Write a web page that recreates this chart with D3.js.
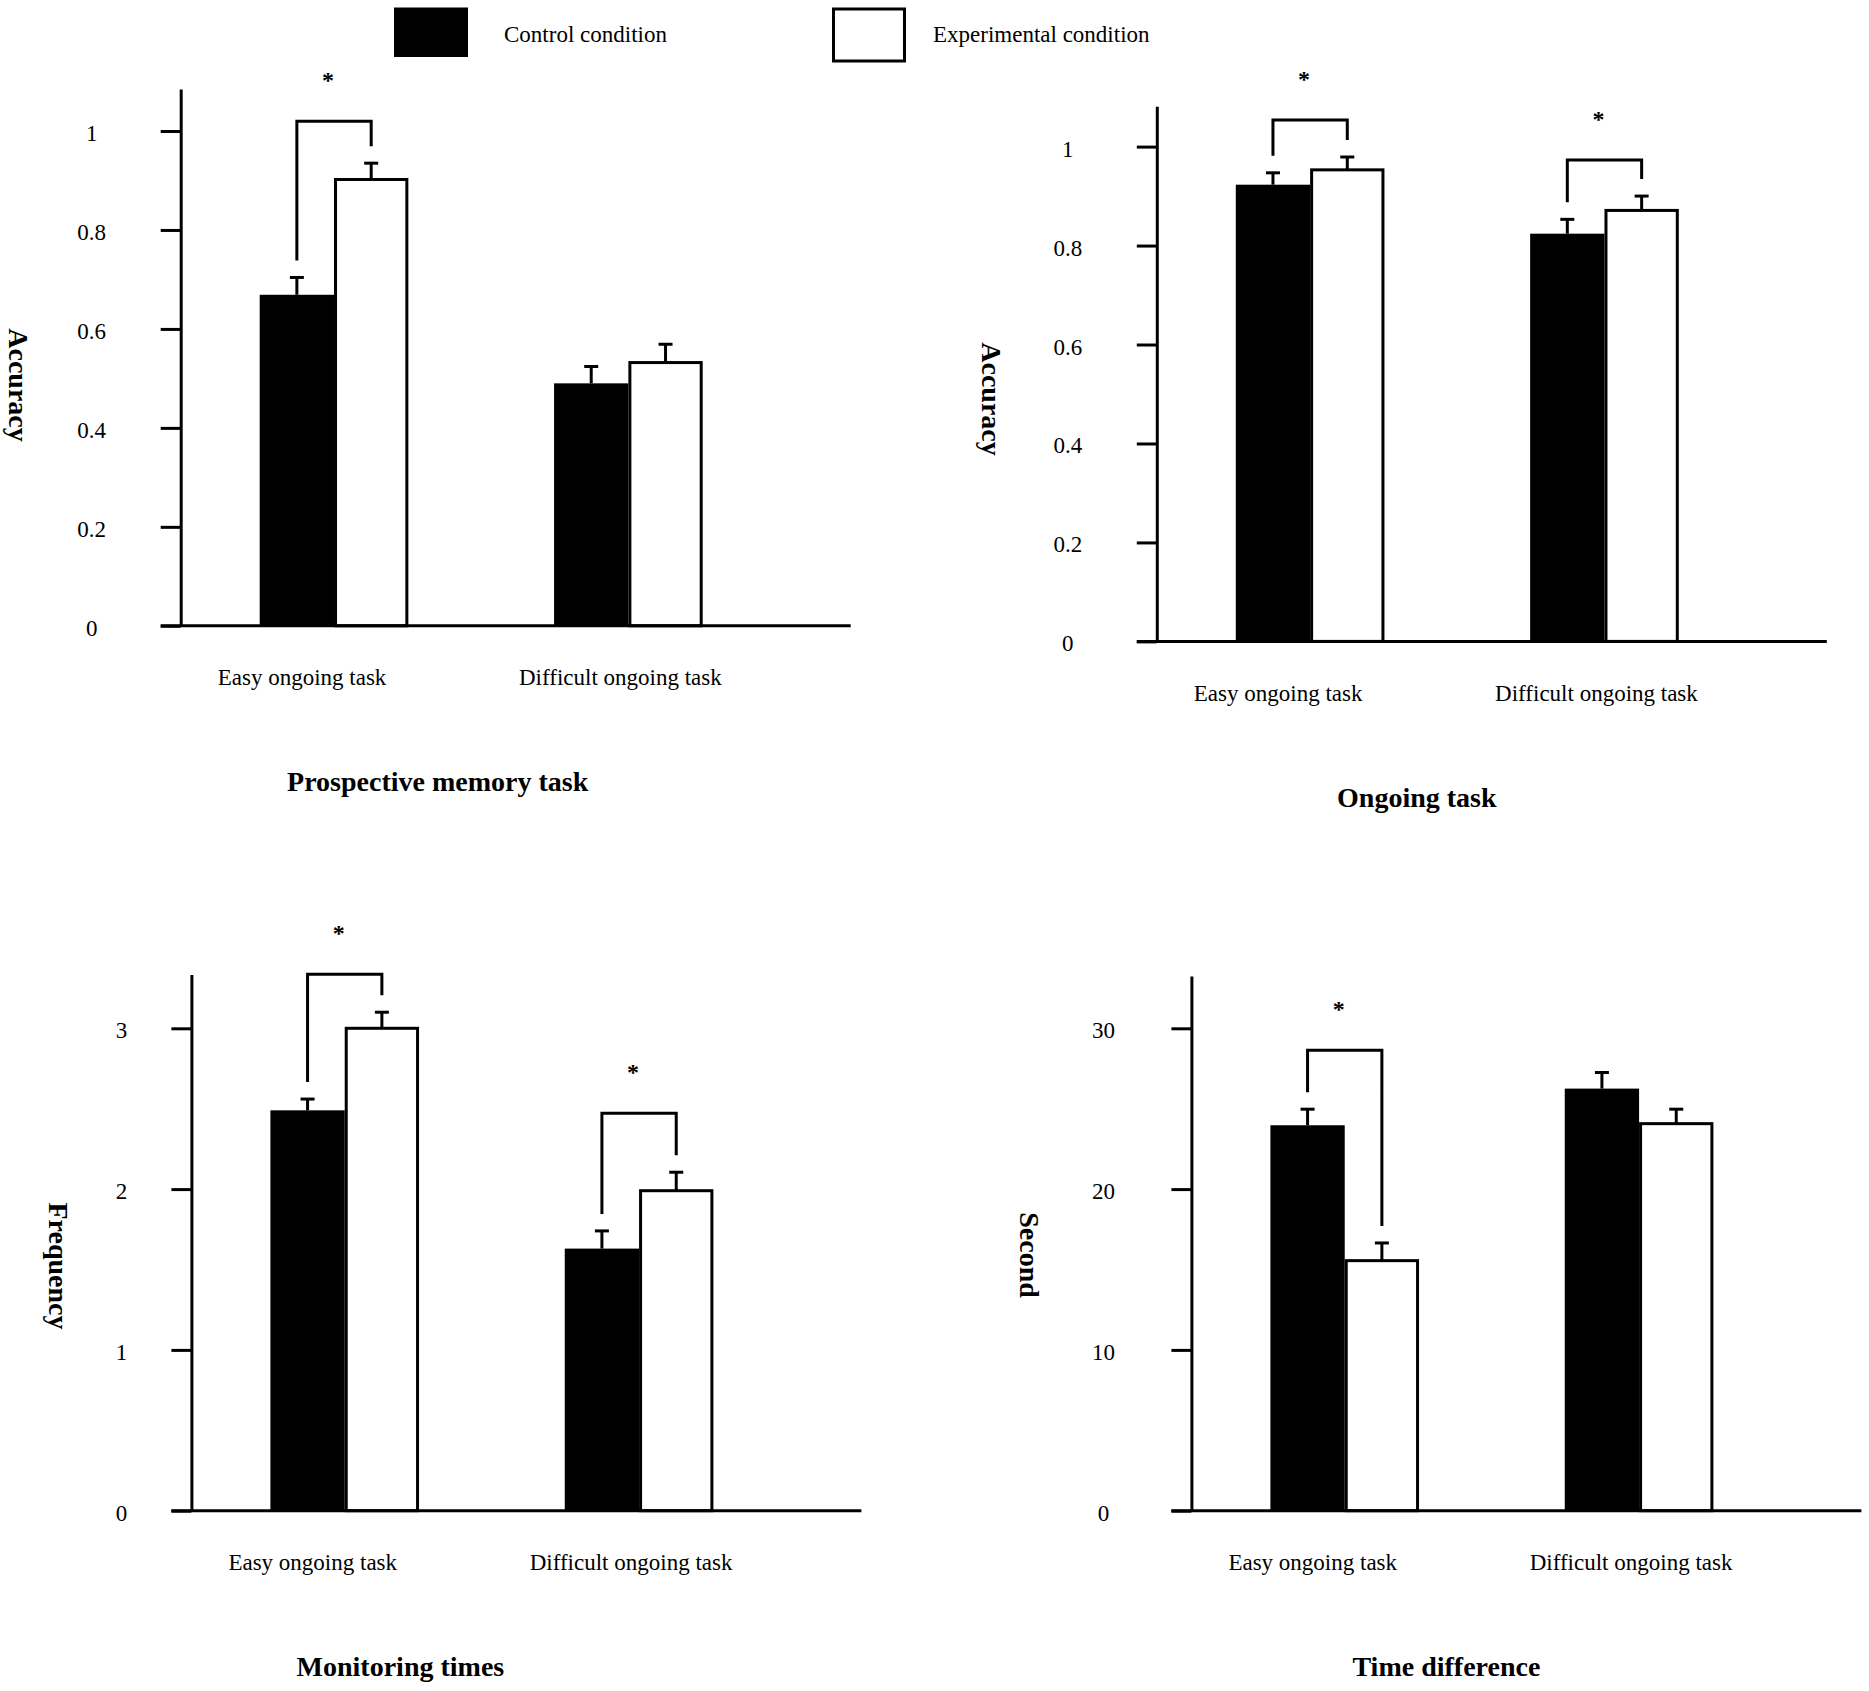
<!DOCTYPE html>
<html>
<head>
<meta charset="utf-8">
<script src="https://cdn.jsdelivr.net/npm/d3@7"></script>
<style>
body { margin: 0; background: #fff; }
svg { display: block; font-family: "Liberation Serif", "Times New Roman", serif; }
</style>
</head>
<body>
<div id="chart"></div>
<script>
// categories and conditions
const categories = ["Easy ongoing task", "Difficult ongoing task"];
const conditions = ["Control condition", "Experimental condition"];

// [control, experimental] per category
const pmMeans = [[0.669, 0.902], [0.490, 0.532]];
const pmErrors = [[0.035, 0.033], [0.034, 0.037]];
const pmTicks = [0, 0.2, 0.4, 0.6, 0.8, 1];
const pmSig = [true, false];

const ongoingMeans = [[0.923, 0.953], [0.824, 0.871]];
const ongoingErrors = [[0.024, 0.026], [0.029, 0.029]];
const ongoingTicks = [0, 0.2, 0.4, 0.6, 0.8, 1];
const ongoingSig = [true, true];

const monitorMeans = [[2.49, 3.0], [1.63, 1.99]];
const monitorErrors = [[0.07, 0.10], [0.11, 0.115]];
const monitorTicks = [0, 1, 2, 3];
const monitorSig = [true, true];

const timeMeans = [[23.97, 15.55], [26.25, 24.07]];
const timeErrors = [[1.0, 1.1], [1.0, 0.9]];
const timeTicks = [0, 10, 20, 30];
const timeSig = [true, false];

const W = 1869, H = 1691;
const labelOffsets = [-32, -8]; // category labels sit a bit left of the bar pair

const svg = d3.select("#chart")
    .append("svg")
    .attr("width", W)
    .attr("height", H);

svg.append("rect").attr("width", W).attr("height", H).attr("fill", "white");

//legend
const legend = svg.append("g");
legend.append("rect")
    .attr("x", 394).attr("y", 7.5)
    .attr("width", 74).attr("height", 49.5)
    .attr("fill", "black");
legend.append("rect")
    .attr("x", 833.5).attr("y", 9)
    .attr("width", 71).attr("height", 52)
    .attr("fill", "white")
    .attr("stroke", "black")
    .attr("stroke-width", 3);
legend.selectAll("text")
    .data(conditions)
    .enter()
    .append("text")
    .attr("x", (d, i) => i === 0 ? 504 : 933)
    .attr("y", 34)
    .attr("dominant-baseline", "central")
    .style("font-size", "23px")
    .text(d => d);

function drawPanel(p) {
    const g = svg.append("g");

    // y scale: tick values up to the top tick, axis line reaches a little further
    const y = d3.scaleLinear()
                .domain([0, p.maxVal])
                .range([p.base, p.maxPx]);
    const yAxisScale = y.copy()
                .domain([0, y.invert(p.top)])
                .range([p.base, p.top]);

    const x0 = d3.scaleBand()
                .domain(categories)
                .range([p.axisX + 79, p.axisX + 522])
                .paddingInner(0.495);
    const x1 = d3.scaleBand()
                .domain(conditions)
                .range([0, x0.bandwidth()]);

    // bars
    const rows = [];
    categories.forEach((c, i) => {
        conditions.forEach((k, j) => {
            rows.push({cat: c, cond: k, ci: i, cj: j, mean: p.means[i][j], err: p.errors[i][j]});
        });
    });

    g.selectAll("rect.bar")
        .data(rows)
        .enter()
        .append("rect")
        .attr("class", "bar")
        .attr("x", d => x0(d.cat) + x1(d.cond) + (d.cj === 1 ? 1.5 : 0))
        .attr("y", d => y(d.mean))
        .attr("width", d => x1.bandwidth() - (d.cj === 1 ? 3 : 0))
        .attr("height", d => p.base - y(d.mean))
        .attr("fill", d => d.cj === 0 ? "black" : "white")
        .attr("stroke", d => d.cj === 0 ? "none" : "black")
        .attr("stroke-width", 3);

    // error bars (upper half only)
    const cx = d => x0(d.cat) + x1(d.cond) + x1.bandwidth() / 2;
    g.selectAll("line.err")
        .data(rows)
        .enter()
        .append("line")
        .attr("class", "err")
        .attr("x1", cx).attr("x2", cx)
        .attr("y1", d => y(d.mean))
        .attr("y2", d => y(d.mean + d.err))
        .attr("stroke", "black")
        .attr("stroke-width", 3);
    g.selectAll("line.cap")
        .data(rows)
        .enter()
        .append("line")
        .attr("class", "cap")
        .attr("x1", d => cx(d) - 7).attr("x2", d => cx(d) + 7)
        .attr("y1", d => y(d.mean + d.err))
        .attr("y2", d => y(d.mean + d.err))
        .attr("stroke", "black")
        .attr("stroke-width", 3);

    // significance brackets
    categories.forEach((c, i) => {
        if (!p.sig[i]) return;
        const a = rows[i * 2], b = rows[i * 2 + 1];
        const lx = cx(a), rx = cx(b);
        const la = y(a.mean + a.err), rb = y(b.mean + b.err);
        const hy = Math.min(la, rb) - p.bracketGap[i];
        g.append("path")
            .attr("d", `M${lx},${la - 17}V${hy}H${rx}V${rb - 17}`)
            .attr("fill", "none")
            .attr("stroke", "black")
            .attr("stroke-width", 3);
        g.append("text")
            .attr("x", (lx + rx) / 2 - 6)
            .attr("y", hy - 33)
            .attr("text-anchor", "middle")
            .style("font-size", "24px")
            .style("font-weight", "bold")
            .text("*");
    });

    // y axis
    const yAxis = d3.axisLeft(yAxisScale)
                .tickValues(p.ticks)
                .tickSize(20)
                .tickSizeOuter(0)
                .tickFormat(d => String(d));
    const ya = g.append("g")
        .attr("transform", `translate(${p.axisX},0)`)
        .call(yAxis);
    ya.attr("font-family", null).attr("font-size", null);
    ya.selectAll("path, line").attr("stroke-width", 3);
    ya.selectAll("text")
        .attr("x", -p.tickDx)
        .attr("dy", null)
        .attr("y", 2)
        .attr("dominant-baseline", "central")
        .attr("text-anchor", "middle")
        .style("font-size", "23px");

    // x axis line
    const xLine = d3.scaleLinear().domain([0, 1]).range([p.axisX - 20, p.axisX + 670]);
    g.append("line")
        .attr("x1", xLine(0)).attr("x2", xLine(1))
        .attr("y1", p.base).attr("y2", p.base)
        .attr("stroke", "black")
        .attr("stroke-width", 3);

    // category labels
    g.selectAll("text.cat")
        .data(categories)
        .enter()
        .append("text")
        .attr("class", "cat")
        .attr("x", (d, i) => x0(d) + x0.bandwidth() / 2 + labelOffsets[i])
        .attr("y", p.base + 52)
        .attr("text-anchor", "middle")
        .attr("dominant-baseline", "central")
        .style("font-size", "23px")
        .text(d => d);

    // y label, reads top to bottom
    const lx = p.axisX + p.yLabelDx;
    g.append("text")
        .attr("x", lx)
        .attr("y", p.yLabelY)
        .attr("transform", `rotate(90,${lx},${p.yLabelY})`)
        .attr("text-anchor", "middle")
        .attr("dominant-baseline", "central")
        .style("font-size", "28px")
        .style("font-weight", "bold")
        .text(p.yLabel);

    // panel title
    g.append("text")
        .attr("x", p.axisX + p.titleDx)
        .attr("y", p.base + 156)
        .attr("text-anchor", "middle")
        .attr("dominant-baseline", "central")
        .style("font-size", "28px")
        .style("font-weight", "bold")
        .text(p.title);
}

drawPanel({means: pmMeans, errors: pmErrors, ticks: pmTicks, sig: pmSig,
    yLabel: "Accuracy", title: "Prospective memory task",
    axisX: 180.7, base: 625.8, top: 88.9, maxVal: 1, maxPx: 131,
    tickDx: 89, yLabelDx: -162.7, yLabelY: 385, titleDx: 257, bracketGap: [42, 0]});

drawPanel({means: ongoingMeans, errors: ongoingErrors, ticks: ongoingTicks, sig: ongoingSig,
    yLabel: "Accuracy", title: "Ongoing task",
    axisX: 1156.8, base: 641.4, top: 106.2, maxVal: 1, maxPx: 146.6,
    tickDx: 89, yLabelDx: -165, yLabelY: 399, titleDx: 260, bracketGap: [37, 36]});

drawPanel({means: monitorMeans, errors: monitorErrors, ticks: monitorTicks, sig: monitorSig,
    yLabel: "Frequency", title: "Monitoring times",
    axisX: 191.4, base: 1510.7, top: 974.4, maxVal: 3, maxPx: 1028.3,
    tickDx: 70, yLabelDx: -133, yLabelY: 1266, titleDx: 209, bracketGap: [38, 59]});

drawPanel({means: timeMeans, errors: timeErrors, ticks: timeTicks, sig: timeSig,
    yLabel: "Second", title: "Time difference",
    axisX: 1191.4, base: 1510.7, top: 976, maxVal: 30, maxPx: 1028.3,
    tickDx: 88, yLabelDx: -162, yLabelY: 1255, titleDx: 255, bracketGap: [59, 0]});
</script>
</body>
</html>
